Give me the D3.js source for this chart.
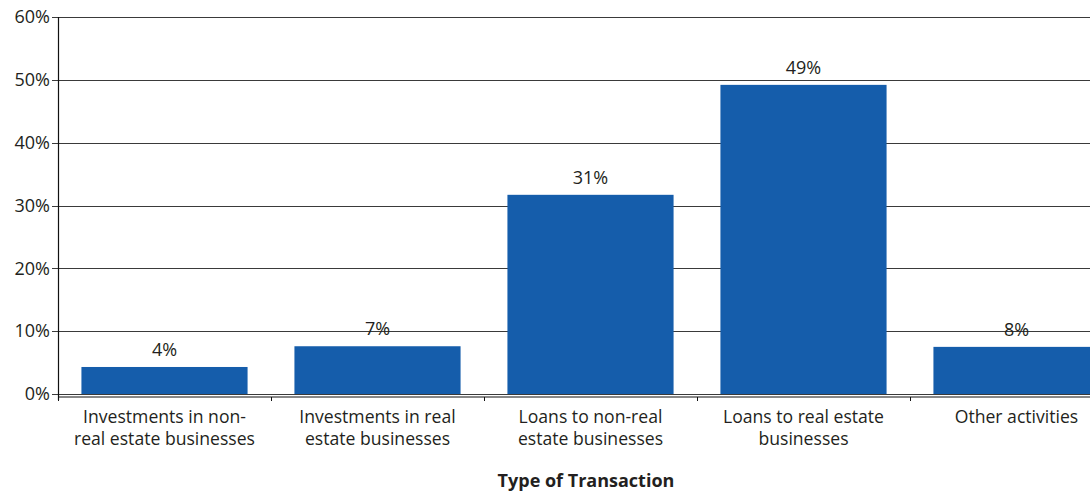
<!DOCTYPE html>
<html>
<head>
<meta charset="utf-8">
<script src="https://cdn.jsdelivr.net/npm/d3@7"></script>
<style>
  html, body { margin: 0; padding: 0; background: #fff; }
  svg { display: block; }
  text { font-family: "Open Sans", "Noto Sans", sans-serif; fill: #231f20; }
</style>
</head>
<body>
<svg id="chart" width="1090" height="493"></svg>
<script>
const categories = [
  ["Investments in non-", "real estate businesses"],
  ["Investments in real", "estate businesses"],
  ["Loans to non-real", "estate businesses"],
  ["Loans to real estate", "businesses"],
  ["Other activities"]
];
const values = [4.3, 7.6, 31.7, 49.2, 7.5];
const valueLabels = ["4%", "7%", "31%", "49%", "8%"];
const yTicks = [0, 10, 20, 30, 40, 50, 60];
const xTitle = "Type of Transaction";

const svg = d3.select("#chart");
const mLeft = 58, mRight = 1123, mTop = 17, mBottom = 394;
const ids = categories.map((c, i) => i);

const x = d3.scaleBand().domain(ids).range([mLeft, mRight]).paddingInner(0.22).paddingOuter(0.11);
const y = d3.scaleLinear().domain([0, 60]).range([mBottom, mTop]);

// gridlines
svg.append("g").selectAll("line").data(yTicks).join("line")
  .attr("x1", mLeft - 6).attr("x2", 1090)
  .attr("y1", d => Math.round(y(d)) + 0.5).attr("y2", d => Math.round(y(d)) + 0.5)
  .attr("stroke", "#3a3a3a").attr("stroke-width", 1);

// y tick labels
svg.append("g").selectAll("text").data(yTicks).join("text")
  .attr("x", mLeft - 8).attr("y", d => y(d))
  .attr("dy", "0.35em").attr("text-anchor", "end")
  .style("font-size", "18px")
  .text(d => d + "%");

// bars
svg.append("g").selectAll("rect").data(values).join("rect")
  .attr("x", (d, i) => x(i)).attr("width", x.bandwidth())
  .attr("y", d => y(d)).attr("height", d => mBottom - y(d))
  .attr("fill", "#155dab");

// value labels
svg.append("g").selectAll("text").data(values).join("text")
  .attr("x", (d, i) => x(i) + x.bandwidth() / 2)
  .attr("y", d => y(d) - 11)
  .attr("text-anchor", "middle")
  .style("font-size", "18px")
  .text((d, i) => valueLabels[i]);

// y axis line
svg.append("line").attr("x1", mLeft + 0.5).attr("x2", mLeft + 0.5)
  .attr("y1", mTop).attr("y2", mBottom + 6).attr("stroke", "#111").attr("stroke-width", 1.2);

// x axis line
const xAxisY = mBottom + 3;
svg.append("line").attr("x1", mLeft).attr("x2", 1090)
  .attr("y1", xAxisY).attr("y2", xAxisY).attr("stroke", "#111").attr("stroke-width", 1.2);

// category boundary ticks
const bounds = ids.map(i => x(i) - x.step() * x.paddingInner() / 2).concat([mRight]);
svg.append("g").selectAll("line").data(bounds).join("line")
  .attr("x1", d => Math.round(d) + 0.5).attr("x2", d => Math.round(d) + 0.5)
  .attr("y1", xAxisY).attr("y2", xAxisY + 4)
  .attr("stroke", "#111");

// category labels (one text element per line)
const lines = [];
categories.forEach((c, i) => c.forEach((t, j) => lines.push({ i, j, t })));
svg.append("g").selectAll("text").data(lines).join("text")
  .attr("x", d => x(d.i) + x.bandwidth() / 2)
  .attr("y", d => 423 + d.j * 22)
  .attr("text-anchor", "middle")
  .style("font-size", "17.6px")
  .text(d => d.t);

// axis title
svg.append("text").attr("x", 586).attr("y", 487)
  .attr("text-anchor", "middle")
  .style("font-size", "18px").style("font-weight", "bold")
  .text(xTitle);
</script>
</body>
</html>
